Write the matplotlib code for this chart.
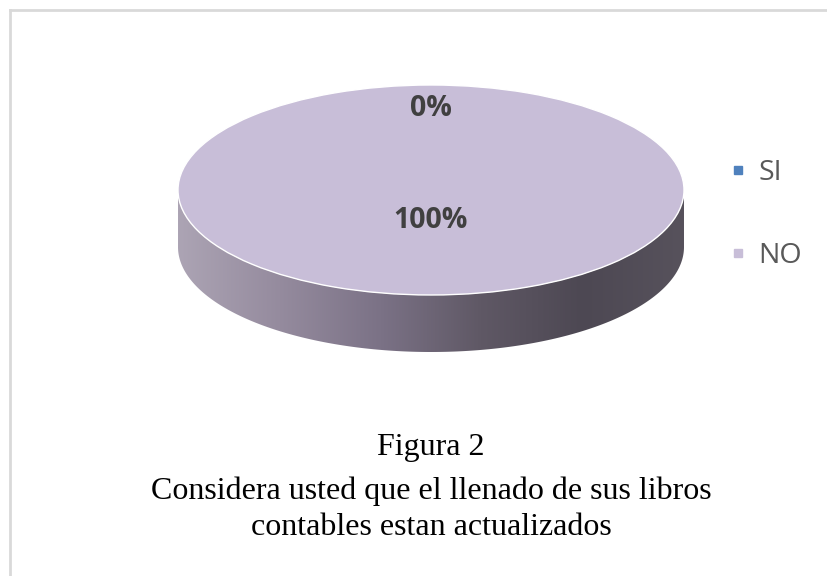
import numpy as np
import matplotlib.pyplot as plt
from matplotlib.patches import Wedge, Polygon
from matplotlib.lines import Line2D
from matplotlib.colors import LinearSegmentedColormap
from matplotlib.transforms import Affine2D

labels = ["SI", "NO"]
values = [0, 100]
colors = ["#4f81bd", "#c8bed8"]
title = "Figura 2"
question = "Considera usted que el llenado de sus libros\ncontables estan actualizados"

# pie geometry (pixels, y grows downwards)
CX, CY = 431, 190
RX, RY = 253, 105
DEPTH = 57
LABEL_R = [0.8, 0.27]

fig = plt.figure(figsize=(8.27, 5.76), dpi=100)
ax = fig.add_axes([0, 0, 1, 1])
ax.set_xlim(0, 827)
ax.set_ylim(576, 0)
ax.axis("off")

# frame (only top/left edges visible in the crop)
ax.plot([9.5, 827], [9.5, 9.5], color="#d9d9d9", lw=2)
ax.plot([9.5, 9.5], [9.5, 576], color="#d9d9d9", lw=2)

# side of the 3D pie with a horizontal gradient
t = np.linspace(0, np.pi, 200)
top_x = CX + RX * np.cos(t)
top_y = CY + RY * np.sin(t)
side = np.concatenate([
    np.column_stack([top_x, top_y]),
    np.column_stack([top_x[::-1], top_y[::-1] + DEPTH]),
])
side_poly = Polygon(side, closed=True, facecolor="none", edgecolor="none")
ax.add_patch(side_poly)
side_cmap = LinearSegmentedColormap.from_list(
    "side", ["#aca4b4", "#958b9e", "#7b7286", "#5f5865", "#4d4853", "#57525c"])
grad = np.linspace(0, 1, 256).reshape(1, -1)
im = ax.imshow(grad, cmap=side_cmap, aspect="auto",
               extent=[CX - RX, CX + RX, CY + RY + DEPTH, CY], zorder=1)
im.set_clip_path(side_poly)

# top of the pie, wedges from the data (Excel starts at 12 o'clock, clockwise)
ell = Affine2D().scale(RX, -RY).translate(CX, CY) + ax.transData
total = sum(values)
start = 90
for i, v in enumerate(values):
    sweep = 360 * v / total
    mid = np.deg2rad(start - sweep / 2)
    if sweep > 0:
        w = Wedge((0, 0), 1, start - sweep, start, facecolor=colors[i],
                  edgecolor="white", lw=1, transform=ell, zorder=2)
        ax.add_patch(w)
    lx = CX + LABEL_R[i] * RX * np.cos(mid)
    ly = CY - LABEL_R[i] * RY * np.sin(mid)
    ax.text(lx, ly + 2, f"{v / total:.0%}", ha="center", va="center",
            fontsize=20.5, fontweight="bold", family="Open Sans",
            color="#404040", zorder=3)
    start -= sweep

# legend
handles = [Line2D([], [], marker="s", linestyle="", markersize=6,
                  markerfacecolor=c, markeredgecolor=c) for c in colors]
leg = ax.legend(handles, labels, loc="center left", bbox_to_anchor=(0.853, 0.628),
                frameon=False, handlelength=0.5, handletextpad=0.45,
                labelspacing=1.95, prop={"family": "Open Sans", "size": 20.5})
for txt in leg.get_texts():
    txt.set_color("#595959")

# caption
ax.text(CX, 447, title, ha="center", va="center", fontsize=23,
        family="Liberation Serif", color="black")
ax.text(CX, 509, question, ha="center", va="center", fontsize=23,
        family="Liberation Serif", color="black", linespacing=1.3)

fig.savefig("out.png", dpi=100, facecolor="white")
